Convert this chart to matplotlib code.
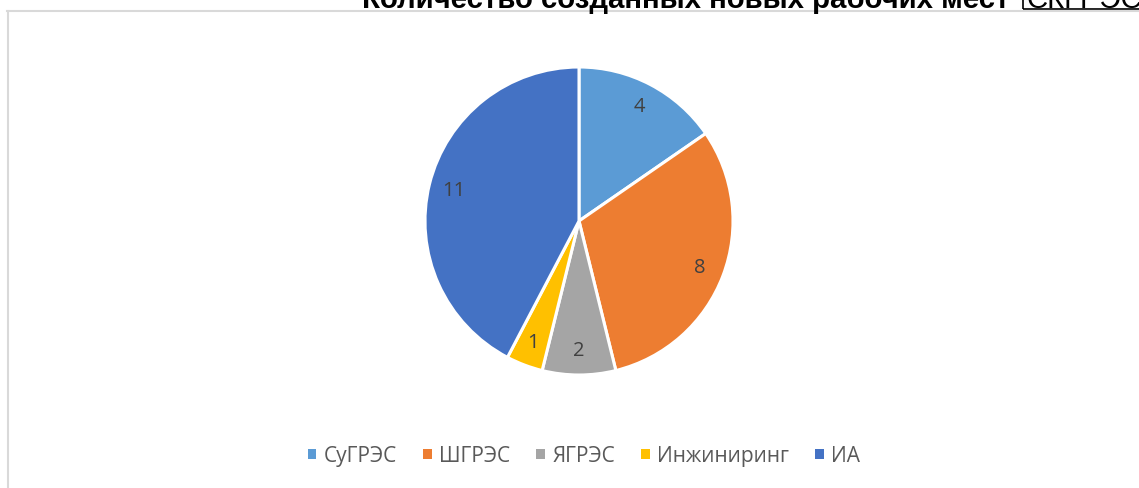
import matplotlib
matplotlib.use('Agg')
import matplotlib.pyplot as plt
from matplotlib.patches import Rectangle, Patch

# Data: number of new jobs created
categories = ['СуГРЭС', 'ШГРЭС', 'ЯГРЭС', 'Инжиниринг', 'ИА']
jobs = [4, 8, 2, 1, 11]
colors = ['#5B9BD5', '#ED7D31', '#A5A5A5', '#FFC000', '#4472C4']

title = 'Количество созданных новых рабочих мест'
title_tag = 'СКГРЭС'

plt.rcParams['font.family'] = ['Open Sans', 'DejaVu Sans']

fig = plt.figure(figsize=(11.39, 4.89), dpi=100)
W, H = 1139, 489

# chart frame (top and left edges)
fig.add_artist(plt.Line2D([7 / W, 1.0], [1 - 11.5 / H, 1 - 11.5 / H],
                          color='#D9D9D9', lw=1.5, transform=fig.transFigure))
fig.add_artist(plt.Line2D([7.5 / W, 7.5 / W], [0, 1 - 11.5 / H],
                          color='#D9D9D9', lw=1.5, transform=fig.transFigure))

# title runs past the top edge of the frame
fig.text(362 / W, 1 - 8.5 / H, title, fontsize=21.2, fontweight='bold',
         family=['Liberation Sans', 'DejaVu Sans'], color='black',
         ha='left', va='baseline')
fig.text(1027 / W, 1 - 8.5 / H, title_tag, fontsize=21.2,
         family=['Liberation Sans', 'DejaVu Sans'], color='black',
         ha='left', va='baseline')
fig.add_artist(Rectangle((1023 / W, 1 - 10 / H), 130 / W, 30 / H, fill=False,
                         edgecolor='black', lw=1.2, transform=fig.transFigure))

# pie
r = 154
cx, cy = 579, 222
ax = fig.add_axes([(cx - r) / W, 1 - (cy + r) / H, 2 * r / W, 2 * r / H])
wedges, texts = ax.pie(jobs, colors=colors, startangle=90, counterclock=False,
                       labels=[str(v) for v in jobs], labeldistance=0.84,
                       wedgeprops=dict(edgecolor='white', linewidth=2.2),
                       textprops=dict(fontsize=14.5, color='#404040'))
for t in texts:
    t.set_ha('center')
    t.set_va('center')
ax.set_aspect('equal')
ax.set_xlim(-1.0, 1.0)
ax.set_ylim(-1.0, 1.0)

# legend
handles = [Patch(facecolor=c, edgecolor='none') for c in colors]
fig.legend(handles, categories, loc='center', bbox_to_anchor=(584 / W, 1 - 457 / H),
           ncol=5, frameon=False, fontsize=15, labelcolor='#595959',
           handlelength=0.4, handleheight=0.4, handletextpad=0.35,
           columnspacing=1.27)

fig.savefig('out.png', dpi=100, facecolor='white')
